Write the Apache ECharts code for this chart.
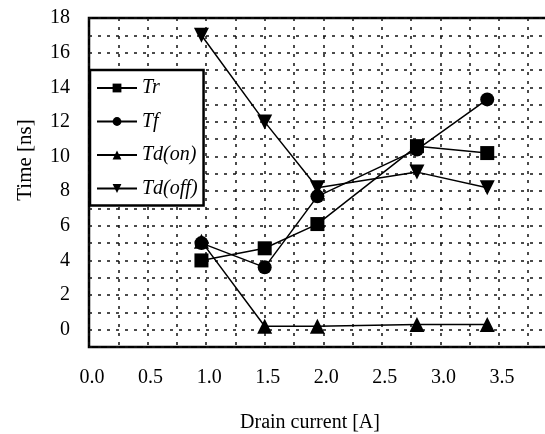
<!DOCTYPE html>
<html>
<head>
<meta charset="utf-8">
<script src="https://cdn.jsdelivr.net/npm/echarts@6/dist/echarts.min.js"></script>
<style>html,body{margin:0;padding:0;background:#fff;overflow:hidden;}#c{width:545px;height:434px;}</style>
</head>
<body>
<div id="c"></div>
<script>
var current = [0.96, 1.5, 1.95, 2.8, 3.4];
var tr = [4.0, 4.7, 6.1, 10.6, 10.2];
var tf = [5.0, 3.6, 7.7, 10.4, 13.3];
var tdOn = [5.1, 0.2, 0.2, 0.3, 0.3];
var tdOff = [17.0, 12.0, 8.2, 9.1, 8.2];
var seriesNames = ['Tr', 'Tf', 'Td(on)', 'Td(off)'];
var xTitle = 'Drain current [A]';
var yTitle = 'Time [ns]';

function pairs(ys) { return current.map(function (x, i) { return [x, ys[i]]; }); }
var FONT = 'Liberation Serif';
var downTri = 'path://M0,0 L10,0 L5,9 Z';

function mk(name, ys, symbol, size) {
  return {
    name: name, type: 'line', data: pairs(ys), symbol: symbol, symbolSize: size,
    lineStyle: { color: '#000', width: 1.5 },
    itemStyle: { color: '#000' },
    z: 5, animation: false
  };
}

var chart = echarts.init(document.getElementById('c'));
chart.setOption({
  animation: false,
  backgroundColor: '#fff',
  grid: { left: 89, top: 18, width: 465, height: 329, show: true, borderColor: '#000', borderWidth: 2.5, backgroundColor: 'transparent', outerBoundsMode: 'none', containLabel: false },
  xAxis: {
    type: 'value', min: 0, max: 3.97, interval: 0.25,
    axisLine: { show: false }, axisTick: { show: false },
    splitLine: { show: true, lineStyle: { color: '#111', width: 1.5, type: [3, 6] } },
    axisLabel: {
      margin: 21, color: '#000', fontFamily: FONT, fontSize: 20, padding: [0, 0, 0, 6],
      formatter: function (v) {
        var d = v * 2;
        if (Math.abs(d - Math.round(d)) > 1e-6 || v > 3.6) return '';
        return v.toFixed(1);
      }
    }
  },
  yAxis: {
    type: 'value', min: -1, max: 18, interval: 1,
    axisLine: { show: false }, axisTick: { show: false },
    splitLine: { show: true, lineStyle: { color: '#111', width: 1.5, type: [3, 6] } },
    axisLabel: {
      margin: 19, color: '#000', fontFamily: FONT, fontSize: 20,
      formatter: function (v) {
        var r = Math.round(v);
        if (Math.abs(v - r) > 1e-6 || r < 0 || r % 2 !== 0) return '';
        return String(r);
      }
    }
  },
  legend: {
    orient: 'vertical', left: 90, top: 70,
    data: seriesNames,
    backgroundColor: '#fff', borderColor: '#000', borderWidth: 2.5,
    padding: [8, 6, 7, 6],
    itemWidth: 40, itemHeight: 11, itemGap: 13.5,
    textStyle: { fontFamily: FONT, fontStyle: 'italic', fontSize: 20, color: '#000', lineHeight: 20 },
    z: 10
  },
  series: [
    mk(seriesNames[0], tr, 'rect', 14),
    mk(seriesNames[1], tf, 'circle', 14),
    mk(seriesNames[2], tdOn, 'triangle', 15),
    mk(seriesNames[3], tdOff, downTri, 15)
  ],
  graphic: [
    { type: 'text', x: 25, y: 160, rotation: Math.PI / 2, style: { text: yTitle, fontFamily: FONT, fontSize: 21, fill: '#000', align: 'center', verticalAlign: 'middle' } },
    { type: 'text', x: 310, y: 423, style: { text: xTitle, fontFamily: FONT, fontSize: 20, fill: '#000', align: 'center', verticalAlign: 'middle' } }
  ]
});
</script>
</body>
</html>
